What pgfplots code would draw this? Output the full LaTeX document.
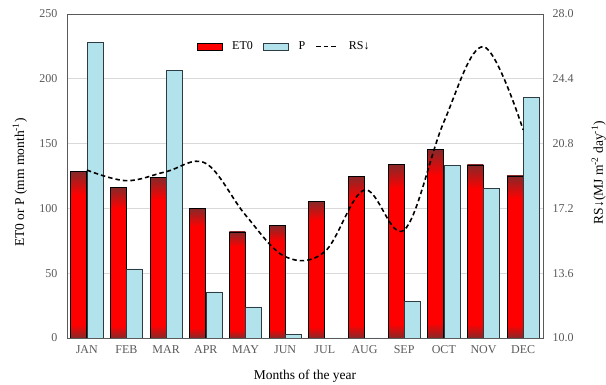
\documentclass[border=0pt]{standalone}
\usepackage{pgfplots}
\usepackage{pgfplotstable}
\pgfplotsset{compat=1.18}
\usepackage{fontspec}
\setmainfont{Liberation Serif}

\definecolor{etred}{RGB}{255,0,0}
\definecolor{etdark}{RGB}{135,40,40}
\definecolor{pblue}{RGB}{178,226,235}
\definecolor{pedge}{RGB}{45,60,65}
\definecolor{ticktext}{RGB}{89,89,89}
\definecolor{gridgray}{RGB}{217,217,217}
\definecolor{frame}{RGB}{90,90,90}

% red bars: dark rim at top and bottom
\pgfdeclareverticalshading{etshade}{100bp}{color(0bp)=(etdark); color(25bp)=(etdark); color(29bp)=(etred); color(68bp)=(etred); color(75bp)=(etdark); color(100bp)=(etdark)}

% month index, ET0 (mm/month), P (mm/month), RS (MJ m-2 day-1)
\pgfplotstableread{
m  et     p      rs
0  128.2  228.2  19.33
1  116.2  53.3   18.74
2  123.9  206.5  19.24
3  99.9   35.5   19.70
4  81.9   24.0   16.83
5  86.8   2.6    14.52
6  105.3  0      14.80
7  124.9  0      18.22
8  133.9  28.1   16.00
9  145.7  133.2  22.00
10 133.6  115.4  26.18
11 125.1  185.9  21.56
}\datatable

\pgfplotsset{
  barkey/.style={legend image code/.code={\draw[##1] (0pt,-3.5pt) rectangle (25pt,3.5pt);}},
  rskey/.style={legend image code/.code={\draw[##1] (0pt,0pt) -- (22pt,0pt);}},
  etbar/.style={draw=black, line width=0.7pt, shade, shading=etshade},
  pbar/.style={draw=pedge, line width=0.7pt, fill=pblue},
  rsline/.style={black, line width=1.6pt, dash pattern=on 4.5pt off 3pt},
}

\begin{document}
\begin{tikzpicture}
\useasboundingbox (-67pt,-47pt) rectangle (539pt,338pt);
\pgfplotsset{
  common/.style={
    at={(0,0)}, anchor=south west,
    width=476pt, height=324pt, scale only axis,
    xmin=-0.5, xmax=11.5,
    major tick length=0pt,
    tick label style={font=\fontsize{12}{14}\selectfont, text=ticktext},
    label style={font=\fontsize{13.5}{16}\selectfont},
    /pgf/number format/assume math mode=true,
    axis line style={frame},
  }
}
\begin{axis}[
  common,
  ymin=0, ymax=250,
  ytick={0,50,100,150,200,250},
  ymajorgrids, grid style={gridgray, line width=0.8pt},
  xtick={0,...,11},
  xticklabels={JAN,FEB,MAR,APR,MAY,JUN,JUL,AUG,SEP,OCT,NOV,DEC},
  xticklabel style={yshift=-4pt},
  yticklabel style={xshift=-6pt},
  ybar=0pt, bar width=0.4,
  xlabel={Months of the year},
  xlabel style={at={(axis description cs:0.5,-0.117)}, anchor=center},
  ylabel={ET0 or P (mm month\textsuperscript{-1})},
  ylabel style={at={(axis description cs:-0.099,0.48)}, anchor=center},
  legend style={at={(axis description cs:0.456,0.9)}, anchor=center,
    draw=none, fill=none, legend columns=3,
    font=\fontsize{12}{14}\selectfont,
    /tikz/every odd column/.append style={column sep=8pt},
    /tikz/every even column/.append style={column sep=8pt}},
]
% each ET0 bar is its own path so that the rim shading follows its height
\pgfplotsinvokeforeach{0,...,11}{
  \addplot[etbar, bar shift=-0.205, forget plot, restrict x to domain=#1:#1] table[x=m,y=et]{\datatable};
}
\addplot[pbar, bar shift=0.205, forget plot] table[x=m,y=p]{\datatable};
\addlegendimage{barkey, draw=black, line width=0.7pt, fill=etred}
\addlegendentry{ET0}
\addlegendimage{barkey, pbar}
\addlegendentry{P}
\addlegendimage{rskey, rsline}
\addlegendentry{RS↓}
\end{axis}

\begin{axis}[
  common,
  ymin=10, ymax=28,
  axis y line*=right, axis x line=none,
  ytick={10,13.6,17.2,20.8,24.4,28},
  yticklabel style={xshift=6pt, /pgf/number format/.cd, fixed, fixed zerofill, precision=1},
  ylabel={RS↓(MJ m\textsuperscript{-2} day\textsuperscript{-1})},
  ylabel style={at={(axis description cs:1.117,0.51)}, anchor=center, rotate=0},
]
\addplot[rsline, smooth, tension=0.6, no marks] table[x=m,y=rs]{\datatable};
\end{axis}
\end{tikzpicture}
\end{document}
